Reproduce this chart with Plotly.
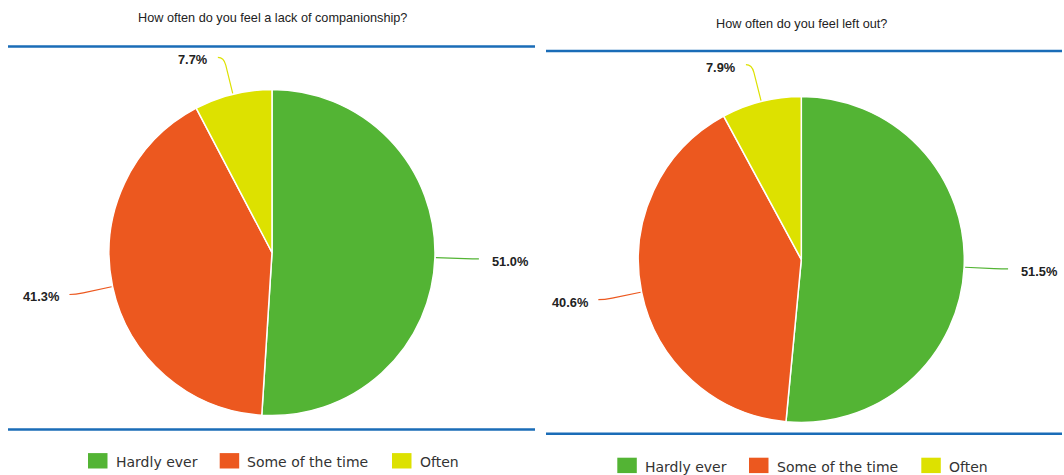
import math
import plotly.graph_objects as go

# Survey answers shared by both questions
categories = ["Hardly ever", "Some of the time", "Often"]
colors = ["#53b434", "#ec581f", "#dde100"]

# Question 1
title_1 = "How often do you feel a lack of companionship?"
values_1 = [51.0, 41.3, 7.7]

# Question 2
title_2 = "How often do you feel left out?"
values_2 = [51.5, 40.6, 7.9]

W, H = 1064, 475
R = 163  # pie radius in px
LINE_BLUE = "#1a6cb7"
TEXT_DARK = "#222222"


def px(x):
    return x / W


def py(y):
    return 1 - y / H


panels = [
    dict(title=title_1, values=values_1, cx=272.0, cy=252.5, title_y=18.0,
         top_y=46.5, bot_y=429.6, x0=8, x1=535, legend_y=460.8),
    dict(title=title_2, values=values_2, cx=801.3, cy=259.5, title_y=24.0,
         top_y=51.0, bot_y=433.8, x0=546, x1=1062, legend_y=465.4),
]

fig = go.Figure()
shapes = []
annotations = []

legend_offsets = [0.0, 131.7, 304.0]
legend_half_span = 184.0

for p in panels:
    cx, cy = p["cx"], p["cy"]
    fig.add_trace(go.Pie(
        labels=categories,
        values=p["values"],
        marker=dict(colors=colors, line=dict(color="white", width=1.5)),
        sort=False,
        direction="clockwise",
        rotation=0,
        textinfo="none",
        hoverinfo="label+percent",
        showlegend=False,
        domain=dict(x=[px(cx - R), px(cx + R)], y=[py(cy + R), py(cy - R)]),
    ))

    # title and rules
    annotations.append(dict(
        text=p["title"], x=px(cx), y=py(p["title_y"]), xref="paper", yref="paper",
        xanchor="center", yanchor="middle", showarrow=False,
        font=dict(family="Liberation Sans, Arial", size=12.7, color=TEXT_DARK)))
    for ly in (p["top_y"], p["bot_y"]):
        shapes.append(dict(type="line", xref="paper", yref="paper",
                           x0=px(p["x0"]), x1=px(p["x1"]), y0=py(ly), y1=py(ly),
                           line=dict(color=LINE_BLUE, width=2.5)))

    # leader lines and percentage labels
    total = sum(p["values"])
    cum = 0.0
    for val, col in zip(p["values"], colors):
        mid = (cum + val / 2) / total * 2 * math.pi
        cum += val
        dx, dy = math.sin(mid), -math.cos(mid)
        sign = 1 if dx >= 0 else -1
        x0, y0 = cx + dx * (R + 1), cy + dy * (R + 1)
        xa, ya = cx + dx * (R + 30), cy + dy * (R + 30)
        xb, yb = cx + dx * (R + 38), cy + dy * (R + 38)
        xe, ye = xb + sign * 6, yb
        path = (f"M {px(x0)},{py(y0)} L {px(xa)},{py(ya)} "
                f"Q {px(xb)},{py(yb)} {px(xe)},{py(ye)}")
        shapes.append(dict(type="path", xref="paper", yref="paper", path=path,
                           line=dict(color=col, width=1.2)))
        tx = xe + 13 if sign > 0 else xe - 9.5
        annotations.append(dict(
            text=f"{val:.1f}%", x=px(tx), y=py(ye + 2.5), xref="paper", yref="paper",
            xanchor="left" if sign > 0 else "right", yanchor="middle",
            showarrow=False, borderpad=0, borderwidth=0,
            font=dict(family="Liberation Sans, Arial", size=12.8, color=TEXT_DARK,
                      weight="bold")))

    # legend
    start = cx - legend_half_span
    ly = p["legend_y"]
    for name, col, off in zip(categories, colors, legend_offsets):
        sx = start + off
        shapes.append(dict(type="rect", xref="paper", yref="paper",
                           x0=px(sx), x1=px(sx + 19.5), y0=py(ly + 7.7), y1=py(ly - 7.7),
                           fillcolor=col, line=dict(width=0)))
        annotations.append(dict(
            text=name, x=px(sx + 26.5), y=py(ly + 1.2), xref="paper", yref="paper",
            xanchor="left", yanchor="middle", showarrow=False, borderpad=0,
            font=dict(family="DejaVu Sans", size=14, color="#333333")))

fig.update_layout(
    width=W, height=H,
    margin=dict(l=0, r=0, t=0, b=0),
    paper_bgcolor="white", plot_bgcolor="white",
    shapes=shapes, annotations=annotations,
)

fig.write_html("out.html")
